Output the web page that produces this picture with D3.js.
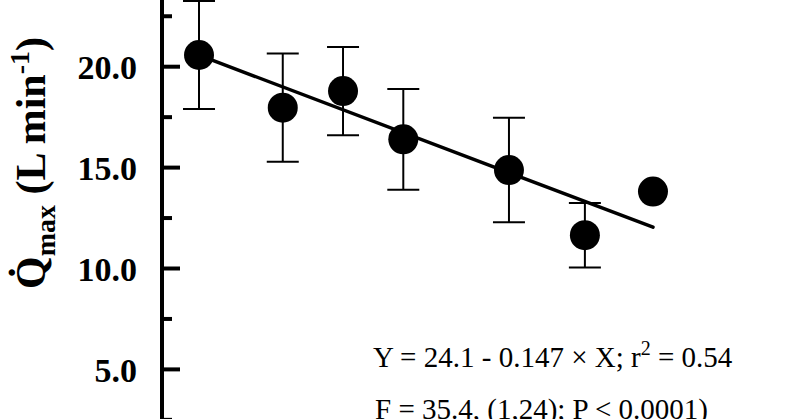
<!DOCTYPE html>
<html>
<head>
<meta charset="utf-8">
<script src="https://cdn.jsdelivr.net/npm/d3@7"></script>
<style>
  body { margin: 0; background: #fff; }
  svg { display: block; overflow: hidden; }
</style>
</head>
<body>
<script>
// values (age in years, Qmax in L/min)
var ages = [24, 34.7, 42.4, 50.1, 63.6, 73.3, 82];
var qmax = [20.58, 17.97, 18.79, 16.4, 14.88, 11.65, 13.81];
var sd = [2.68, 2.68, 2.19, 2.5, 2.59, 1.6, null];
var majorTicks = [5, 10, 15, 20];
var minorTicks = [2.5, 7.5, 12.5, 17.5, 22.5];
// regression Y = 24.1 - 0.147 * X
var intercept = 24.1, slope = -0.147;

var data = ages.map(function(a, i) { return {x: a, y: qmax[i], sd: sd[i]}; });

var width = 800, height = 419;
var axisX = 162;

var svg = d3.select("body").append("svg")
    .attr("width", width)
    .attr("height", height);

// the figure is cropped: y=0 sits below the bottom edge, top runs above it
var x = d3.scaleLinear().domain([20, 90]).range([167.7, 715.6]);
var y = d3.scaleLinear().domain([0, 25]).range([470.3, -34.2]);

// y axis line
svg.append("line")
    .attr("x1", axisX).attr("x2", axisX)
    .attr("y1", y(0)).attr("y2", y(25))
    .attr("stroke", "#000").attr("stroke-width", 4);

// major ticks + labels
svg.selectAll(".major").data(majorTicks).enter().append("line")
    .attr("x1", axisX).attr("x2", axisX + 18)
    .attr("y1", function(d) { return y(d); })
    .attr("y2", function(d) { return y(d); })
    .attr("stroke", "#000").attr("stroke-width", 4);

svg.selectAll(".minor").data(minorTicks).enter().append("line")
    .attr("x1", axisX).attr("x2", axisX + 10)
    .attr("y1", function(d) { return y(d); })
    .attr("y2", function(d) { return y(d); })
    .attr("stroke", "#000").attr("stroke-width", 4);

svg.selectAll(".tlabel").data(majorTicks).enter().append("text")
    .attr("x", 137)
    .attr("y", function(d) { return y(d); })
    .attr("dy", "0.36em")
    .attr("text-anchor", "end")
    .style("font-family", "'Liberation Serif', 'Times New Roman', serif")
    .style("font-weight", "bold")
    .style("font-size", "34px")
    .text(function(d) { return d3.format(".1f")(d); });

// y axis title (rotated)
var title = svg.append("text")
    .attr("transform", "translate(45,163) rotate(-90)")
    .attr("text-anchor", "middle")
    .style("font-family", "'Liberation Serif', 'Times New Roman', serif")
    .style("font-weight", "bold")
    .style("font-size", "42px");
title.append("tspan").text("Q\u0307");
title.append("tspan").attr("dy", 10).style("font-size", "28px").text("max");
title.append("tspan").attr("dy", -10).text(" (L min");
title.append("tspan").attr("dy", -16).style("font-size", "28px").text("-1");
title.append("tspan").attr("dy", 16).text(")");

// regression line
var xr = d3.extent(ages);
svg.append("line")
    .attr("x1", x(xr[0])).attr("y1", y(intercept + slope * xr[0]))
    .attr("x2", x(xr[1])).attr("y2", y(intercept + slope * xr[1]))
    .attr("stroke", "#000").attr("stroke-width", 3.5)
    .attr("stroke-linecap", "round");

// error bars
var eb = data.filter(function(d) { return d.sd != null; });
var g = svg.append("g").attr("stroke", "#000").attr("stroke-width", 2);
g.selectAll(".ev").data(eb).enter().append("line")
    .attr("x1", function(d) { return x(d.x); })
    .attr("x2", function(d) { return x(d.x); })
    .attr("y1", function(d) { return y(d.y + d.sd); })
    .attr("y2", function(d) { return y(d.y - d.sd); });
[1, -1].forEach(function(s) {
  g.selectAll(".cap" + s).data(eb).enter().append("line")
      .attr("x1", function(d) { return x(d.x) - 16; })
      .attr("x2", function(d) { return x(d.x) + 16; })
      .attr("y1", function(d) { return y(d.y + s * d.sd); })
      .attr("y2", function(d) { return y(d.y + s * d.sd); });
});

// points
svg.selectAll("circle").data(data).enter().append("circle")
    .attr("cx", function(d) { return x(d.x); })
    .attr("cy", function(d) { return y(d.y); })
    .attr("r", 15)
    .attr("fill", "#000");

// annotation
var ann = svg.append("text")
    .attr("x", 373).attr("y", 367)
    .style("font-family", "'Liberation Serif', 'Times New Roman', serif")
    .style("font-size", "29px");
ann.append("tspan").text("Y = 24.1 - 0.147 \u00d7 X; r");
ann.append("tspan").attr("dy", -12).style("font-size", "20px").text("2");
ann.append("tspan").attr("dy", 12).text(" = 0.54");

svg.append("text")
    .attr("x", 375).attr("y", 419)
    .style("font-family", "'Liberation Serif', 'Times New Roman', serif")
    .style("font-size", "29px")
    .text("F = 35.4, (1,24); P < 0.0001)");
</script>
</body>
</html>
